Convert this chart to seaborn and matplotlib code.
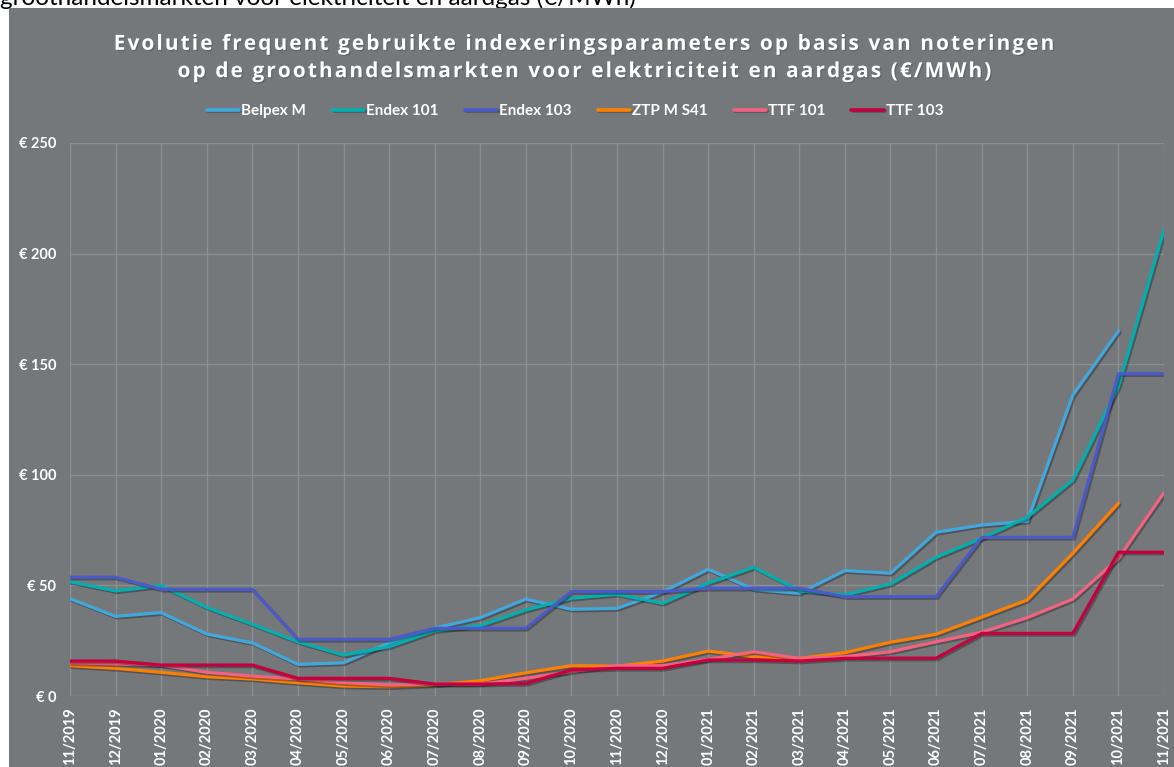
import numpy as np
import pandas as pd
import matplotlib
matplotlib.use('Agg')
import matplotlib.pyplot as plt
import matplotlib.patheffects as pe
from matplotlib.patches import Rectangle
import seaborn as sns

months = ['11/2019', '12/2019', '01/2020', '02/2020', '03/2020', '04/2020',
          '05/2020', '06/2020', '07/2020', '08/2020', '09/2020', '10/2020',
          '11/2020', '12/2020', '01/2021', '02/2021', '03/2021', '04/2021',
          '05/2021', '06/2021', '07/2021', '08/2021', '09/2021', '10/2021',
          '11/2021']

belpex_m = [44, 36, 37.7, 28, 24, 14.3, 15, 24, 30.7, 35.4, 43.8, 39.2, 39.6,
            47, 57.3, 48.2, 46.4, 56.7, 55.5, 74, 77.3, 79, 136, 165, np.nan]
endex_101 = [51.7, 47.5, 49.9, 40, 32.4, 24.5, 18.5, 22.3, 29.5, 31.8, 38.9,
             44.2, 46, 41.9, 51, 58.2, 47.6, 45.7, 50.6, 62.7, 71.3, 80.8,
             97.6, 140, 210.7]
endex_103 = [53.7, 53.7, 48.2, 48.2, 48.2, 25.6, 25.6, 25.6, 30.6, 30.6, 30.6,
             47.2, 47.2, 47.2, 48.7, 48.7, 48.7, 44.9, 44.9, 44.9, 71.7, 71.7,
             71.7, 145.7, 145.7]
ztp_m_s41 = [13.7, 12.5, 10.7, 8.7, 7.7, 6, 4.5, 4.2, 5, 6.9, 10.5, 13.7,
             13.5, 15.8, 20.3, 17.8, 17, 19.6, 24.3, 27.9, 35.6, 43.4, 64.5,
             87.1, np.nan]
ttf_101 = [15, 14.5, 14, 10.7, 9, 7.7, 6, 5, 5.4, 5.4, 8, 11, 13.7, 13.7,
           16.6, 20, 17, 17.8, 20, 24.5, 28.8, 35.4, 43.8, 62.2, 91.9]
ttf_103 = [15.8, 15.8, 14, 14, 14, 8, 8, 8, 5.4, 5.4, 5.7, 11.8, 12.5, 12.5,
           16.3, 16.3, 15.8, 17, 17.1, 17.1, 28.3, 28.3, 28.3, 65, 65]

series = {'Belpex M': belpex_m, 'Endex 101': endex_101,
          'Endex 103': endex_103, 'ZTP M S41': ztp_m_s41,
          'TTF 101': ttf_101, 'TTF 103': ttf_103}
colors = ['#41A8DE', '#00B0B0', '#4A5AC8', '#FF8000', '#F4627F', '#C4003E']

rows = []
for name, vals in series.items():
    for i, v in enumerate(vals):
        rows.append({'idx': i, 'value': v, 'reeks': name})
df = pd.DataFrame(rows).dropna()

bg = '#75787B'
grid = '#8C8F92'

sns.set_style('dark')
fig = plt.figure(figsize=(11.74, 7.67), dpi=100, facecolor='white')

# cut-off caption at the very top
fig.text(0.0, 1 - 5 / 767, 'groothandelsmarkten voor elektriciteit en aardgas (€/MWh)',
         fontsize=17.5, family='Lato', color='black', va='baseline', zorder=-2)
fig.patches.append(Rectangle((9 / 1174, 0), 1, 1 - 8 / 767,
                             transform=fig.transFigure, facecolor=bg,
                             edgecolor='none', zorder=-1))

ax = fig.add_axes([70 / 1174, 1 - 696 / 767, 1094 / 1174, 553 / 767])
ax.set_facecolor(bg)
sns.lineplot(data=df, x='idx', y='value', hue='reeks', palette=colors,
             linewidth=2.3, ax=ax, legend=True)
for line in ax.lines:
    line.set_path_effects([pe.SimpleLineShadow(offset=(1.2, -1.2), alpha=0.3),
                           pe.Normal()])

ax.set_xlim(0, 24)
ax.set_ylim(0, 250)
ax.set_xticks(range(len(months)))
ax.set_xticklabels(months, rotation=90)
ax.set_yticks(range(0, 251, 50))
ax.set_yticklabels(['€ ' + str(v) for v in range(0, 251, 50)])
ax.grid(True, color=grid, linewidth=1)
for s in ax.spines.values():
    s.set_visible(False)
ax.tick_params(axis='x', length=5, color=grid, colors='white', pad=3)
ax.tick_params(axis='y', length=0, colors='white', pad=10)
for lab in ax.get_xticklabels():
    lab.set_fontfamily('Lato')
    lab.set_fontweight('bold')
    lab.set_fontsize(10.5)
for lab in ax.get_yticklabels():
    lab.set_fontfamily('Lato')
    lab.set_fontweight('bold')
    lab.set_fontsize(10.5)
ax.set_xlabel('')
ax.set_ylabel('')

handles, labels = ax.get_legend_handles_labels()
ax.get_legend().remove()
leg = fig.legend(handles, labels, loc='center', bbox_to_anchor=(575 / 1174, 1 - 111 / 767),
                 ncol=6, frameon=False, handlelength=2.1, columnspacing=1.7,
                 handletextpad=0.15,
                 prop={'family': 'Lato', 'weight': 'bold', 'size': 11})
for t in leg.get_texts():
    t.set_color('white')
for h in leg.legend_handles:
    h.set_linewidth(2.6)

# spaced-out title, hair spaces emulate the letter spacing
hs = '\u200a'
line1 = 'Evolutie frequent gebruikte indexeringsparameters op basis van noteringen'
line2 = 'op de groothandelsmarkten voor elektriciteit en aardgas (€/MWh)'
fig.text(586 / 1174, 1 - 58 / 767,
         hs.join(line1) + '\n' + hs.join(line2),
         ha='center', va='center', color='white', fontsize=15,
         family=['Open Sans', 'DejaVu Sans'], fontweight='bold',
         linespacing=1.4,
         path_effects=[pe.withSimplePatchShadow(offset=(1, -1), alpha=0.4)])

fig.savefig('out.png', dpi=100, facecolor='white')
